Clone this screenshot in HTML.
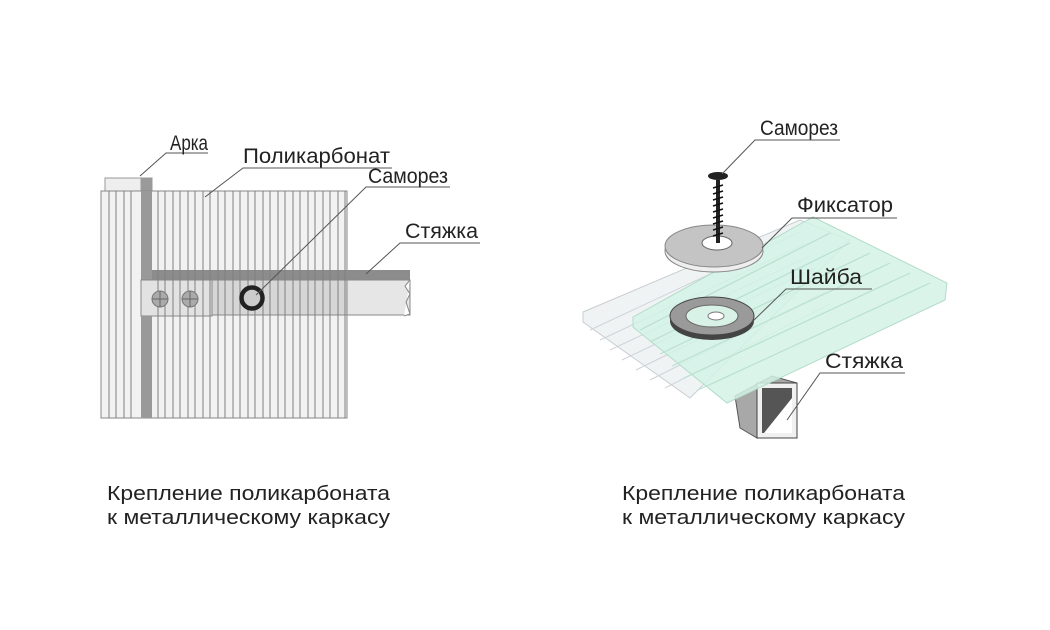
<!DOCTYPE html>
<html><head><meta charset="utf-8"><style>
html,body{margin:0;padding:0;background:#fff;}
svg{display:block;}
text{font-family:"Liberation Sans",sans-serif;fill:#222;}
</style></head><body>
<svg width="1050" height="630" viewBox="0 0 1050 630" xmlns="http://www.w3.org/2000/svg">
<rect width="1050" height="630" fill="#fff"/>
<!-- LEFT DIAGRAM -->
<rect x="105" y="178" width="47" height="240" fill="#e4e4e4" stroke="#999" stroke-width="1"/>
<rect x="141" y="178" width="11" height="240" fill="#9a9a9a"/>
<rect x="105" y="178" width="36" height="14" fill="#eee" stroke="#999"/>
<rect x="101" y="191" width="246" height="227" fill="#f2f2f2" stroke="#888" stroke-width="1"/>
<rect x="141" y="191" width="11" height="227" fill="#999"/>
<rect x="152" y="270" width="258" height="10" fill="#8c8c8c"/>
<rect x="347" y="280" width="63" height="35" fill="#e6e6e6" stroke="#888"/>
<path d="M410 280 l-5 6 5 8 -4 8 4 12 l-6 2" fill="#fff" stroke="#888"/>
<rect x="212" y="280" width="135" height="35" fill="#d6d6d6" stroke="#888"/>
<rect x="141" y="280" width="71" height="36" fill="#e2e2e2" stroke="#888"/>
<rect x="141" y="316" width="11" height="102" fill="#999"/>
<g stroke="#808080" stroke-width="1">
<line x1="109" y1="191" x2="109" y2="418"/><line x1="116" y1="191" x2="116" y2="418"/><line x1="124" y1="191" x2="124" y2="418"/><line x1="131" y1="191" x2="131" y2="418"/>
<line x1="158" y1="191" x2="158" y2="418"/><line x1="165" y1="191" x2="165" y2="418"/><line x1="173" y1="191" x2="173" y2="418"/><line x1="180" y1="191" x2="180" y2="418"/><line x1="188" y1="191" x2="188" y2="418"/><line x1="195" y1="191" x2="195" y2="418"/><line x1="203" y1="191" x2="203" y2="418"/><line x1="210" y1="191" x2="210" y2="418"/><line x1="218" y1="191" x2="218" y2="418"/><line x1="225" y1="191" x2="225" y2="418"/><line x1="233" y1="191" x2="233" y2="418"/><line x1="240" y1="191" x2="240" y2="418"/><line x1="248" y1="191" x2="248" y2="418"/><line x1="255" y1="191" x2="255" y2="418"/><line x1="263" y1="191" x2="263" y2="418"/><line x1="270" y1="191" x2="270" y2="418"/><line x1="278" y1="191" x2="278" y2="418"/><line x1="285" y1="191" x2="285" y2="418"/><line x1="293" y1="191" x2="293" y2="418"/><line x1="300" y1="191" x2="300" y2="418"/><line x1="308" y1="191" x2="308" y2="418"/><line x1="315" y1="191" x2="315" y2="418"/><line x1="323" y1="191" x2="323" y2="418"/><line x1="330" y1="191" x2="330" y2="418"/><line x1="338" y1="191" x2="338" y2="418"/><line x1="345" y1="191" x2="345" y2="418"/>
</g>
<circle cx="160" cy="299" r="8" fill="#aaa" stroke="#777"/><path d="M152 299h16M160 291v16" stroke="#666"/>
<circle cx="190" cy="299" r="8" fill="#aaa" stroke="#777"/><path d="M182 299h16M190 291v16" stroke="#666"/>
<circle cx="252" cy="298" r="10.5" fill="#ccc" stroke="#222" stroke-width="4.5"/>
<g stroke="#555" stroke-width="1" fill="none">
<path d="M140 176 L166 153 H208"/>
<path d="M205 197 L243 168 H392"/>
<path d="M256 295 L366 187 H450"/>
<path d="M366 274 L400 243 H480"/>
</g>
<g font-size="21">
<text x="170" y="150" textLength="38" lengthAdjust="spacingAndGlyphs">Арка</text>
<text x="243" y="163" textLength="147" lengthAdjust="spacingAndGlyphs">Поликарбонат</text>
<text x="368" y="183" textLength="80" lengthAdjust="spacingAndGlyphs">Саморез</text>
<text x="405" y="238" textLength="73" lengthAdjust="spacingAndGlyphs">Стяжка</text>
</g>

<!-- RIGHT DIAGRAM -->
<polygon points="583,312 800,220 850,240 690,398 583,322" fill="#f0f3f4" stroke="#c9ced2"/>
<g stroke="#cdd3d8" stroke-width="1">
<line x1="590" y1="330" x2="800" y2="232"/><line x1="600" y1="340" x2="805" y2="244"/><line x1="610" y1="350" x2="810" y2="256"/><line x1="622" y1="360" x2="815" y2="268"/><line x1="636" y1="370" x2="820" y2="280"/><line x1="650" y1="380" x2="825" y2="292"/><line x1="665" y1="388" x2="830" y2="304"/>
</g>
<!-- tube -->
<polygon points="735,396 772,376 797,383 757,384 757,438 740,428" fill="#a8a8a8" stroke="#555"/>
<rect x="757" y="383" width="40" height="55" fill="#f0f0f0" stroke="#444"/>
<polygon points="762,388 792,388 792,433 762,433" fill="#555"/>
<polygon points="764,433 792,398 792,433" fill="#fff"/>
<polygon points="633,317 813,217 947,283 945,300 727,403 633,327" fill="#d4f2e6" fill-opacity="0.85" stroke="#b3dcc9"/>
<g stroke="#b9e0cf" stroke-width="1.2">
<line x1="640" y1="330" x2="830" y2="233"/><line x1="650" y1="342" x2="850" y2="243"/><line x1="660" y1="354" x2="870" y2="253"/><line x1="672" y1="366" x2="890" y2="263"/><line x1="684" y1="378" x2="910" y2="273"/><line x1="698" y1="390" x2="930" y2="283"/>
</g>
<!-- washer -->
<ellipse cx="712" cy="321" rx="42" ry="19" fill="#444"/>
<ellipse cx="712" cy="316" rx="42" ry="19" fill="#9a9a9a" stroke="#444"/>
<ellipse cx="712" cy="316" rx="26" ry="11" fill="#d9f2e8" stroke="#666"/>
<ellipse cx="716" cy="316" rx="8" ry="4" fill="#fff" stroke="#777"/>
<!-- fixator -->
<ellipse cx="714" cy="251" rx="49" ry="21" fill="#eee" stroke="#888"/>
<ellipse cx="714" cy="246" rx="49" ry="21" fill="#c4c4c4" stroke="#888"/>
<ellipse cx="717" cy="243" rx="15" ry="7" fill="#fff" stroke="#666"/>
<path d="M718 180 V243" stroke="#222" stroke-width="4"/>
<g stroke="#111" stroke-width="1.5">
<path d="M713 188 l10 -3 M713 194 l10 -3 M713 200 l10 -3 M713 206 l10 -3 M713 212 l10 -3 M713 218 l10 -3 M713 224 l10 -3 M713 230 l10 -3 M713 236 l10 -3"/>
</g>
<ellipse cx="718" cy="176" rx="10" ry="4" fill="#222"/>
<g stroke="#555" stroke-width="1" fill="none">
<path d="M722 174 L755 140 H840"/>
<path d="M762 248 L792 218 H897"/>
<path d="M752 322 L786 289 H872"/>
<path d="M787 420 L820 373 H905"/>
</g>
<g font-size="21">
<text x="760" y="135" textLength="78" lengthAdjust="spacingAndGlyphs">Саморез</text>
<text x="797" y="212" textLength="96" lengthAdjust="spacingAndGlyphs">Фиксатор</text>
<text x="790" y="284" textLength="72" lengthAdjust="spacingAndGlyphs">Шайба</text>
<text x="825" y="368" textLength="78" lengthAdjust="spacingAndGlyphs">Стяжка</text>
</g>

<g font-size="20" fill="#333">
<text x="107" y="500" textLength="283" lengthAdjust="spacingAndGlyphs">Крепление поликарбоната</text>
<text x="107" y="524" textLength="283" lengthAdjust="spacingAndGlyphs">к металлическому каркасу</text>
<text x="622" y="500" textLength="283" lengthAdjust="spacingAndGlyphs">Крепление поликарбоната</text>
<text x="622" y="524" textLength="283" lengthAdjust="spacingAndGlyphs">к металлическому каркасу</text>
</g>
</svg>
</body></html>
